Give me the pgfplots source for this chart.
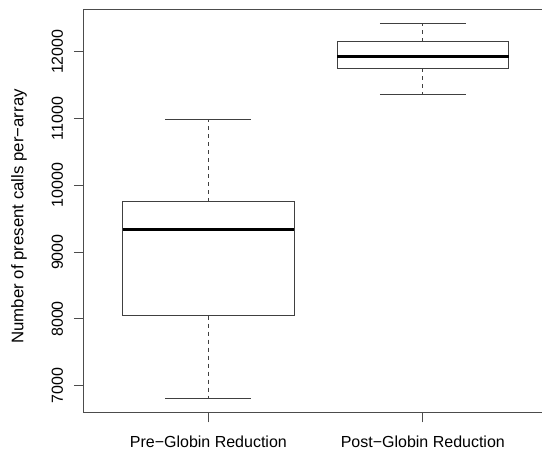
\documentclass[border=0pt]{standalone}
\usepackage{fontspec}
\setmainfont{Liberation Sans}
\usepackage{pgfplots}
\pgfplotsset{compat=1.18}

% box outlines: pre (x=1), post (x=2); box width 0.8, caps 0.4
\begin{document}
\begin{tikzpicture}
\begin{axis}[
  name=ax,
  scale only axis,
  width=463.2bp, height=402.3bp,
  xmin=0.42, xmax=2.58,
  ymin=6602, ymax=12624,
  xtick={1,2},
  xticklabels={Pre−Globin Reduction, Post−Globin Reduction},
  ytick={7000,8000,...,12000},
  scaled y ticks=false,
  tick pos=left,
  tick align=outside,
  major tick length=10bp,
  tick style={black!70, line width=0.9bp},
  axis line style={black!70, line width=1bp},
  /pgf/number format/1000 sep={},
  /pgf/number format/assume math mode=true,
  font=\fontsize{16bp}{19bp}\selectfont,
  yticklabel style={rotate=90, anchor=south, inner sep=0pt},
  yticklabel shift=10.7bp,
  xticklabel style={anchor=north, inner sep=0pt},
  xticklabel shift=13bp,
  ylabel={Number of present calls per−array},
  ylabel style={at={(axis description cs:-0.140,0.487)}, anchor=center,
    font=\fontsize{16.8bp}{20bp}\selectfont},
  box/.style={black!75, line width=1bp},
  whisk/.style={black!75, line width=1bp, dash pattern=on 4bp off 4bp},
  med/.style={black, line width=3bp},
]
% Pre-Globin Reduction
\addplot[box] coordinates {(0.6,8048) (1.4,8048) (1.4,9755) (0.6,9755) (0.6,8048)};
\addplot[med] coordinates {(0.6,9331) (1.4,9331)};
\addplot[whisk] coordinates {(1,8048) (1,6816)};
\addplot[whisk] coordinates {(1,9755) (1,10988)};
\addplot[box] coordinates {(0.8,6816) (1.2,6816)};
\addplot[box] coordinates {(0.8,10988) (1.2,10988)};
% Post-Globin Reduction
\addplot[box] coordinates {(1.6,11751) (2.4,11751) (2.4,12150) (1.6,12150) (1.6,11751)};
\addplot[med] coordinates {(1.6,11925) (2.4,11925)};
\addplot[whisk] coordinates {(2,11751) (2,11362)};
\addplot[whisk] coordinates {(2,12150) (2,12415)};
\addplot[box] coordinates {(1.8,11362) (2.2,11362)};
\addplot[box] coordinates {(1.8,12415) (2.2,12415)};
\end{axis}
\pgfresetboundingbox
\path[use as bounding box] ([shift={(-84bp,-40.7bp)}]ax.south west) rectangle ([shift={(458bp,412.3bp)}]ax.south west);
\end{tikzpicture}
\end{document}
